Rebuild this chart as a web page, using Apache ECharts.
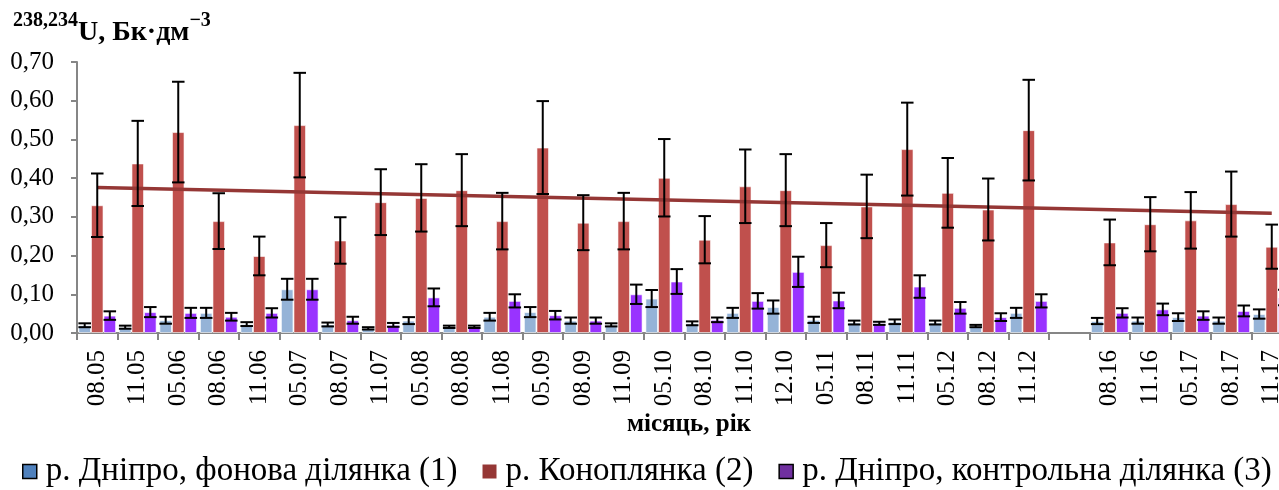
<!DOCTYPE html>
<html>
<head>
<meta charset="utf-8">
<script src="https://cdn.jsdelivr.net/npm/echarts@6/dist/echarts.min.js"></script>
<style>
  html, body { margin: 0; padding: 0; background: #fff; }
  #chart { width: 1279px; height: 490px; }
</style>
</head>
<body>
<div id="chart"></div>
<script>
// month.year samples; the empty slot is the gap between 2012 and 2016
const categories = ['08.05','11.05','05.06','08.06','11.06','05.07','08.07','11.07','05.08','08.08',
  '11.08','05.09','08.09','11.09','05.10','08.10','11.10','12.10','05.11','08.11',
  '11.11','05.12','08.12','11.12','','08.16','11.16','05.17','08.17','11.17'];

// р. Дніпро, фонова ділянка (1)
const dniproBg = [0.020,0.015,0.033,0.052,0.023,0.113,0.022,0.012,0.032,0.016,
  0.042,0.054,0.032,0.021,0.089,0.025,0.052,0.067,0.034,0.027,
  0.029,0.027,0.018,0.052,null,0.031,0.032,0.041,0.032,0.049];
const dniproBgErr = [0.005,0.004,0.009,0.013,0.005,0.027,0.005,0.003,0.009,0.003,
  0.010,0.013,0.008,0.004,0.022,0.005,0.013,0.017,0.008,0.005,
  0.006,0.005,0.003,0.013,null,0.008,0.008,0.010,0.008,0.012];

// р. Коноплянка (2)
const konoplyanka = [0.330,0.438,0.519,0.289,0.199,0.537,0.239,0.338,0.349,0.369,
  0.289,0.479,0.285,0.289,0.401,0.241,0.379,0.369,0.227,0.327,
  0.475,0.362,0.319,0.524,null,0.234,0.281,0.291,0.333,0.223];
const konoplyankaErr = [0.082,0.110,0.130,0.072,0.050,0.135,0.060,0.085,0.087,0.093,
  0.073,0.120,0.071,0.073,0.100,0.061,0.095,0.093,0.057,0.082,
  0.120,0.090,0.080,0.130,null,0.059,0.070,0.073,0.084,0.057];

// р. Дніпро, контрольна ділянка (3)
const dniproCtrl = [0.045,0.054,0.052,0.042,0.052,0.113,0.033,0.021,0.092,0.016,
  0.083,0.046,0.032,0.100,0.133,0.034,0.083,0.158,0.084,0.025,
  0.120,0.065,0.041,0.083,null,0.052,0.061,0.045,0.057,0.092];
const dniproCtrlErr = [0.011,0.013,0.013,0.010,0.012,0.027,0.009,0.005,0.023,0.003,
  0.017,0.011,0.008,0.025,0.032,0.006,0.020,0.039,0.020,0.004,
  0.029,0.015,0.010,0.017,null,0.012,0.015,0.011,0.014,0.020];

// linear trend of series (2), read at first and last category
const trendStart = 0.376;
const trendEnd = 0.309;

const yTicks = ['0,00','0,10','0,20','0,30','0,40','0,50','0,60','0,70'];

const names = ['р. Дніпро, фонова ділянка (1)', 'р. Коноплянка (2)', 'р. Дніпро, контрольна ділянка (3)'];
const serif = '"Liberation Serif", "DejaVu Serif", serif';
const BAR_SHARE = 0.31;

function errData(vals, errs) {
  const out = [];
  vals.forEach((v, i) => {
    if (v == null) return;
    out.push([i, v - errs[i], v + errs[i]]);
  });
  return out;
}

function errSeries(vals, errs, slot) {
  return {
    type: 'custom',
    z: 5,
    silent: true,
    clip: false,
    data: errData(vals, errs),
    encode: { x: 0, y: [1, 2] },
    renderItem: (params, api) => {
      const band = api.size([1, 0])[0];
      const off = slot * band * BAR_SHARE;
      const lo = api.coord([api.value(0), api.value(1)]);
      const hi = api.coord([api.value(0), api.value(2)]);
      const x = lo[0] + off;
      const half = band * BAR_SHARE / 2;
      const style = { stroke: '#000', lineWidth: 2 };
      return {
        type: 'group',
        children: [
          { type: 'line', shape: { x1: x, y1: lo[1], x2: x, y2: hi[1] }, style },
          { type: 'line', shape: { x1: x - half, y1: lo[1], x2: x + half, y2: lo[1] }, style },
          { type: 'line', shape: { x1: x - half, y1: hi[1], x2: x + half, y2: hi[1] }, style }
        ]
      };
    }
  };
}

function barSeries(name, vals, color) {
  return {
    name,
    type: 'bar',
    data: vals,
    barWidth: (BAR_SHARE * 100) + '%',
    barGap: '0%',
    itemStyle: { color, borderColor: 'rgba(255,255,255,0.6)', borderWidth: 1 }
  };
}

const chart = echarts.init(document.getElementById('chart'));
chart.setOption({
  animation: false,
  textStyle: { fontFamily: serif },
  title: [
    {
      left: 8, top: 6,
      text: '{sup|238,234}{b|U, Бк·дм}{sup|−3}',
      textStyle: {
        rich: {
          b: { fontFamily: serif, fontWeight: 'bold', fontSize: 28, color: '#000', lineHeight: 36, verticalAlign: 'bottom' },
          sup: { fontFamily: serif, fontWeight: 'bold', fontSize: 20, color: '#000', lineHeight: 36, verticalAlign: 'top' }
        }
      }
    },
    {
      left: 684, top: 407, textAlign: 'center',
      text: 'місяць, рік',
      textStyle: { fontFamily: serif, fontWeight: 'bold', fontSize: 25, color: '#000' }
    }
  ],
  // the plot runs past the right edge of the picture, as in the source
  grid: { left: 77, width: 1215, top: 62, height: 271, containLabel: false, outerBoundsMode: 'none' },
  legend: {
    bottom: 2,
    left: 22,
    width: 1400,
    padding: 0,
    icon: 'rect',
    itemWidth: 14,
    itemHeight: 14,
    itemGap: 25,
    textStyle: { fontFamily: serif, fontSize: 33, color: '#000', padding: [0, 0, 0, 4] },
    data: [
      { name: names[0], itemStyle: { color: '#4F81BD', borderColor: '#000', borderWidth: 1.5 } },
      { name: names[1], itemStyle: { color: '#953735', borderWidth: 0 } },
      { name: names[2], itemStyle: { color: '#7030A0', borderColor: '#000', borderWidth: 1.5 } }
    ]
  },
  xAxis: {
    type: 'category',
    data: categories,
    axisLine: { lineStyle: { color: '#868686', width: 2 } },
    axisTick: { show: true, length: 7, lineStyle: { color: '#868686', width: 2 } },
    axisLabel: { rotate: 90, margin: 17, fontFamily: serif, fontSize: 25, color: '#000', interval: 0 }
  },
  yAxis: {
    type: 'value',
    min: 0,
    max: 0.7,
    interval: 0.1,
    splitLine: { show: false },
    axisLine: { show: true, lineStyle: { color: '#868686', width: 2 } },
    axisTick: { show: true, length: 6, lineStyle: { color: '#868686', width: 2 } },
    axisLabel: {
      margin: 23, fontFamily: serif, fontSize: 25, color: '#000',
      formatter: (v) => yTicks[Math.round(v * 10)]
    }
  },
  series: [
    barSeries(names[0], dniproBg, '#95B3D7'),
    barSeries(names[1], konoplyanka, '#C0504D'),
    barSeries(names[2], dniproCtrl, '#9933FF'),
    {
      name: 'trend',
      type: 'line',
      z: 4,
      silent: true,
      symbol: 'none',
      data: [[0, trendStart], [categories.length - 1, trendEnd]],
      lineStyle: { color: '#953735', width: 3.5 }
    },
    errSeries(dniproBg, dniproBgErr, -1),
    errSeries(konoplyanka, konoplyankaErr, 0),
    errSeries(dniproCtrl, dniproCtrlErr, 1)
  ]
});
</script>
</body>
</html>
